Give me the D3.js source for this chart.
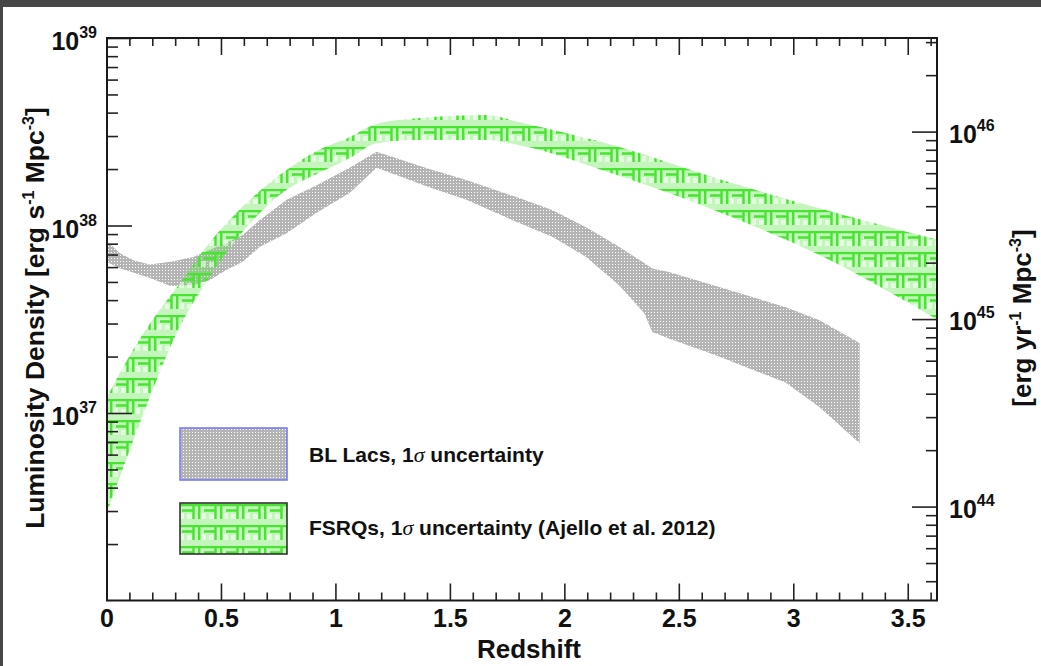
<!DOCTYPE html>
<html>
<head>
<meta charset="utf-8">
<script src="https://d3js.org/d3.v7.min.js"></script>
<style>
  body { margin: 0; background: #fff; }
  svg text { font-family: "Liberation Sans", Arial, Helvetica, sans-serif; font-weight: bold; fill: #111; }
  .tick line { stroke: #222; stroke-width: 1.6; }
</style>
</head>
<body>
<svg width="1041" height="666"></svg>
<script>
// BL Lac band, 1 sigma edges, erg s^-1 Mpc^-3
var blZ  = [0.00, 0.06, 0.12, 0.19, 0.28, 0.38, 0.45, 0.525, 0.595, 0.67, 0.787, 0.918, 1.062, 1.18,
            1.41, 1.572, 1.803, 1.947, 2.095, 2.239, 2.349, 2.384, 2.457, 2.676, 2.968, 3.112, 3.29];
var blHi = [8.3e37, 7.1e37, 6.5e37, 6.2e37, 6.4e37, 6.8e37, 7.4e37, 8.1e37, 8.9e37, 1.07e38, 1.37e38, 1.64e38, 2.03e38, 2.47e38,
            2.0e38, 1.75e38, 1.40e38, 1.21e38, 9.8e37, 7.7e37, 6.3e37, 5.9e37, 5.65e37, 4.7e37, 3.67e37, 3.13e37, 2.36e37];
var blLo = [6.4e37, 5.9e37, 5.6e37, 5.25e37, 4.76e37, 4.82e37, 5.1e37, 5.8e37, 6.4e37, 7.7e37, 9.1e37, 1.17e38, 1.49e38, 2.03e38,
            1.6e38, 1.37e38, 1.03e38, 8.7e37, 6.8e37, 4.8e37, 3.4e37, 2.7e37, 2.5e37, 2.0e37, 1.45e37, 1.08e37, 6.9e36];

// FSRQ band (Ajello et al. 2012)
var fsrqZ  = [0, 0.116, 0.19, 0.32, 0.45, 0.58, 0.787, 0.918, 1.062, 1.18, 1.367, 1.66, 1.80, 2.24, 2.675, 3.11, 3.63];
var fsrqHi = [1.2e37, 2.17e37, 3.0e37, 4.9e37, 8.1e37, 1.21e38, 1.98e38, 2.5e38, 2.96e38, 3.48e38, 3.74e38, 3.88e38, 3.56e38, 2.62e38, 1.77e38, 1.24e38, 8.4e37];
var fsrqLo = [2.9e36, 7.1e36, 1.22e37, 2.88e37, 5.3e37, 8.8e37, 1.55e38, 1.88e38, 2.29e38, 2.75e38, 2.86e38, 2.86e38, 2.69e38, 1.84e38, 1.18e38, 7.0e37, 3.15e37];

var xMajor = [0, 0.5, 1, 1.5, 2, 2.5, 3, 3.5];
var xLabels = ["0", "0.5", "1", "1.5", "2", "2.5", "3", "3.5"];
var leftExp = [37, 38, 39];
var rightExp = [44, 45, 46];
var secPerYear = 3.156e7;

var svg = d3.select("svg");
var L = 107, R = 937, T = 38, B = 600.5;

// dark frame of the screenshot
svg.append("rect").attr("x", 0).attr("y", 0).attr("width", 1041).attr("height", 7).attr("fill", "#474747");
svg.append("rect").attr("x", 0).attr("y", 0).attr("width", 3).attr("height", 666).attr("fill", "#474747");

var x = d3.scaleLinear().domain([0, 3.63]).range([106.5, 937.5]);
var y = d3.scaleLog().domain([1e36, 1e39]).range([B, T]);
var yR = d3.scaleLog().domain([1e36 * secPerYear, 1e39 * secPerYear]).range([B, T]);

var defs = svg.append("defs");
var dots = defs.append("pattern").attr("id", "dots").attr("width", 3).attr("height", 3)
  .attr("patternUnits", "userSpaceOnUse");
dots.append("rect").attr("width", 3).attr("height", 3).attr("fill", "#b4b4b4");
dots.append("rect").attr("width", 1).attr("height", 1).attr("fill", "#fff");

// greek-key hatch of the FSRQ band
var key = defs.append("pattern").attr("id", "key").attr("width", 22).attr("height", 21)
  .attr("patternUnits", "userSpaceOnUse");
key.append("rect").attr("width", 22).attr("height", 21).attr("fill", "rgba(100,228,80,0.38)");
key.append("rect").attr("x", 3).attr("y", 9).attr("width", 5).attr("height", 6).attr("fill", "rgba(255,255,255,0.55)");
key.append("rect").attr("x", 11).attr("y", 10).attr("width", 5).attr("height", 5).attr("fill", "rgba(255,255,255,0.55)");
key.append("path").attr("d", "M0,1H22M1.2,0V15M6,6.5H17.5V15M17.5,1V6.5")
  .attr("stroke", "#48e530").attr("stroke-width", 2.4).attr("fill", "none");

defs.append("clipPath").attr("id", "plot").append("rect")
  .attr("x", L).attr("y", T).attr("width", R - L).attr("height", B - T);

var area = d3.area()
  .x(function(d) { return x(d[0]); })
  .y0(function(d) { return y(d[1]); })
  .y1(function(d) { return y(d[2]); });

var plot = svg.append("g").attr("clip-path", "url(#plot)");
plot.append("path")
  .datum(blZ.map(function(z, i) { return [z, blLo[i], blHi[i]]; }))
  .attr("d", area.curve(d3.curveLinear))
  .attr("fill", "url(#dots)");
plot.append("path")
  .datum(fsrqZ.map(function(z, i) { return [z, fsrqLo[i], fsrqHi[i]]; }))
  .attr("d", area.curve(d3.curveMonotoneX))
  .attr("fill", "url(#key)");

// ticks
var xMinor = d3.range(0, 37).map(function(i) { return i / 10; })
  .filter(function(v) { return Math.round(v * 10) % 5 !== 0; });

function logTicks(lo, hi) {
  var out = [];
  for (var e = lo; e <= hi; e++) for (var k = 2; k <= 9; k++) out.push(k * Math.pow(10, e));
  return out;
}

svg.append("g").attr("transform", "translate(0," + B + ")")
  .call(d3.axisBottom(x).tickValues(xMinor).tickSize(-8).tickFormat(""));
var xb = svg.append("g").attr("transform", "translate(0," + B + ")")
  .call(d3.axisBottom(x).tickValues(xMajor).tickSize(-17).tickPadding(9)
    .tickFormat(function(d, i) { return xLabels[i]; }));
xb.selectAll("text").attr("font-size", 25).attr("font-family", null).attr("fill", "#111");
svg.append("g").attr("transform", "translate(0," + T + ")")
  .call(d3.axisTop(x).tickValues(xMinor).tickSize(-8).tickFormat(""));
svg.append("g").attr("transform", "translate(0," + T + ")")
  .call(d3.axisTop(x).tickValues(xMajor).tickSize(-17).tickFormat(""));

svg.append("g").attr("transform", "translate(" + L + ",0)")
  .call(d3.axisLeft(y).tickValues(logTicks(36, 38).filter(function(v) { return v < 1e39; })).tickSize(-11).tickFormat(""));
svg.append("g").attr("transform", "translate(" + L + ",0)")
  .call(d3.axisLeft(y).tickValues(leftExp.map(function(e) { return Math.pow(10, e); })).tickSize(-25).tickFormat(""));
svg.append("g").attr("transform", "translate(" + R + ",0)")
  .call(d3.axisRight(yR).tickValues(logTicks(43, 46).filter(function(v) { return v > 1e36 * secPerYear && v < 1e39 * secPerYear; }))
    .tickSize(-11).tickFormat(""));
svg.append("g").attr("transform", "translate(" + R + ",0)")
  .call(d3.axisRight(yR).tickValues(rightExp.map(function(e) { return Math.pow(10, e); })).tickSize(-25).tickFormat(""));
svg.selectAll(".domain").remove();

svg.append("rect").attr("x", L).attr("y", T).attr("width", R - L).attr("height", B - T)
  .attr("fill", "none").attr("stroke", "#1a1a1a").attr("stroke-width", 2);

// power-of-ten labels
function powLabel(g, px, py, exp, anchor) {
  var t = g.append("text").attr("x", px).attr("y", py).attr("text-anchor", anchor).attr("font-size", 25);
  t.append("tspan").text("10");
  t.append("tspan").attr("dy", -12).attr("font-size", 16).text(exp);
}
leftExp.forEach(function(e) { powLabel(svg, 97, y(Math.pow(10, e)) + 12, e, "end"); });
rightExp.forEach(function(e) { powLabel(svg, 949, yR(Math.pow(10, e)) + 11, e, "start"); });

// axis titles
svg.append("text").attr("x", 529).attr("y", 658).attr("text-anchor", "middle").attr("font-size", 26).text("Redshift");

function titleWithSups(px, py, size, parts) {
  var t = svg.append("text").attr("transform", "translate(" + px + "," + py + ") rotate(-90)")
    .attr("text-anchor", "middle").attr("font-size", size);
  parts.forEach(function(p) {
    var s = t.append("tspan").text(p[0]);
    if (p[1] === "sup") s.attr("dy", -10).attr("font-size", 16);
    if (p[1] === "down") s.attr("dy", 10);
  });
}
titleWithSups(44, 318, 26.5, [["Luminosity Density [erg s"], ["-1", "sup"], [" Mpc", "down"], ["-3", "sup"], ["]", "down"]]);
titleWithSups(1031, 318, 26, [["[erg yr"], ["-1", "sup"], [" Mpc", "down"], ["-3", "sup"], ["]", "down"]]);

// legend
var leg = svg.append("g");
leg.append("rect").attr("x", 180).attr("y", 428).attr("width", 107).attr("height", 52)
  .attr("fill", "url(#dots)").attr("stroke", "#7a7aff").attr("stroke-width", 1.6);
leg.append("rect").attr("x", 180).attr("y", 503).attr("width", 107).attr("height", 51)
  .attr("fill", "url(#key)").attr("stroke", "#333").attr("stroke-width", 1.6);

function legText(py, before, after) {
  var t = leg.append("text").attr("x", 309).attr("y", py).attr("font-size", 21);
  t.append("tspan").text(before);
  t.append("tspan").attr("font-family", "'Liberation Serif', 'Times New Roman', serif")
    .attr("font-style", "italic").attr("font-weight", "normal").attr("font-size", 22).text("\u03c3");
  t.append("tspan").text(after);
}
legText(462, "BL Lacs, 1", " uncertainty");
legText(535, "FSRQs, 1", " uncertainty (Ajello et al. 2012)");
</script>
</body>
</html>
